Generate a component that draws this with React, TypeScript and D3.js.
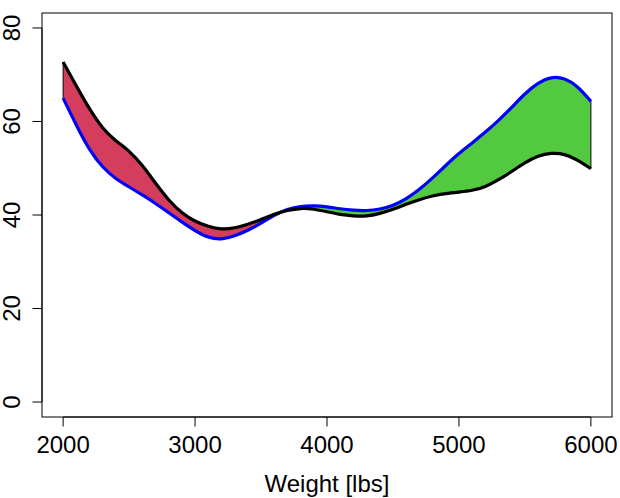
import React from 'react';
import * as d3 from 'd3';

// Weight grid (lbs) and the two fitted curves
const weights = [
  2000, 2100, 2200, 2300, 2400, 2500, 2600, 2700, 2800, 2900,
  3000, 3100, 3200, 3300, 3400, 3500, 3600, 3700, 3800, 3900,
  4000, 4100, 4200, 4300, 4400, 4500, 4600, 4700, 4800, 4900,
  5000, 5100, 5200, 5300, 5400, 5500, 5600, 5700, 5800, 5900, 6000
];

const blackSeries = [
  72.7, 67.6, 62.6, 58.4, 55.8, 53.8, 50.7, 46.8, 43.1, 40.4,
  38.6, 37.5, 36.9, 37.2, 38.0, 39.0, 40.2, 41.0, 41.5, 41.3,
  40.7, 40.1, 39.8, 39.7, 40.3, 41.2, 42.3, 43.3, 44.1, 44.6,
  44.9, 45.2, 46.0, 47.5, 49.3, 51.2, 52.7, 53.3, 53.1, 51.8, 49.9
];

const blueSeries = [
  65.0, 59.2, 53.8, 50.1, 47.7, 46.0, 44.3, 42.5, 40.5, 38.5,
  36.6, 35.1, 34.7, 35.5, 36.7, 38.2, 40.0, 41.3, 41.9, 42.0,
  41.8, 41.3, 41.0, 40.9, 41.2, 42.0, 43.4, 45.4, 47.9, 50.6,
  53.2, 55.4, 57.7, 60.2, 63.0, 66.0, 68.3, 69.6, 69.3, 67.6, 64.3
];

const xTicks = [2000, 3000, 4000, 5000, 6000];
const yTicks = [0, 20, 40, 60, 80];

const W = 620;
const H = 498;
const plot = { left: 42, right: 612, top: 13, bottom: 417 };
const font = '"Liberation Sans", Arial, Helvetica, sans-serif';

export default function App() {
  // R style 4% padding on both axes
  const x = d3.scaleLinear().domain([1840, 6160]).range([plot.left, plot.right]);
  const y = d3.scaleLinear().domain([-3.2, 83.2]).range([plot.bottom, plot.top]);

  const rows = weights.map((w, i) => ({ w, black: blackSeries[i], blue: blueSeries[i] }));
  const curve = d3.curveBasis;

  const lineBlack = d3.line<any>().x(d => x(d.w)).y(d => y(d.black)).curve(curve);
  const lineBlue = d3.line<any>().x(d => x(d.w)).y(d => y(d.blue)).curve(curve);

  const between = d3.area<any>().x(d => x(d.w)).y0(d => y(d.blue)).y1(d => y(d.black)).curve(curve);
  const aboveBlack = d3.area<any>().x(d => x(d.w)).y0(0).y1(d => y(d.black)).curve(curve);
  const belowBlack = d3.area<any>().x(d => x(d.w)).y0(H).y1(d => y(d.black)).curve(curve);

  return (
    <svg width={W} height={H} style={{ position: 'absolute', left: 0, top: 0, background: '#fff' }}
      fontFamily={font}>
      <defs>
        <clipPath id="clip-above"><path d={aboveBlack(rows) || ''} /></clipPath>
        <clipPath id="clip-below"><path d={belowBlack(rows) || ''} /></clipPath>
      </defs>

      {/* filled differences */}
      <path d={between(rows) || ''} fill="#D43D5C" clipPath="url(#clip-below)" />
      <path d={between(rows) || ''} fill="#53C940" clipPath="url(#clip-above)" />
      <path d={between(rows) || ''} fill="none" stroke="#000" strokeWidth={1} />

      <path d={lineBlue(rows) || ''} fill="none" stroke="#0000FF" strokeWidth={3.2} />
      <path d={lineBlack(rows) || ''} fill="none" stroke="#000" strokeWidth={3.2} />

      {/* plot box */}
      <rect x={plot.left} y={plot.top} width={plot.right - plot.left} height={plot.bottom - plot.top}
        fill="none" stroke="#000" strokeWidth={1} />

      {/* x axis */}
      <line x1={x(xTicks[0])} x2={x(xTicks[xTicks.length - 1])} y1={plot.bottom} y2={plot.bottom} stroke="#000" />
      {xTicks.map(t => (
        <g key={t}>
          <line x1={x(t)} x2={x(t)} y1={plot.bottom} y2={plot.bottom + 9.5} stroke="#000" />
          <text x={x(t)} y={453} textAnchor="middle" fontSize={24}>{t}</text>
        </g>
      ))}
      <text x={(plot.left + plot.right) / 2} y={492} textAnchor="middle" fontSize={24}>Weight [lbs]</text>

      {/* y axis */}
      <line x1={plot.left} x2={plot.left} y1={y(yTicks[0])} y2={y(yTicks[yTicks.length - 1])} stroke="#000" />
      {yTicks.map(t => (
        <g key={t}>
          <line x1={plot.left - 9.5} x2={plot.left} y1={y(t)} y2={y(t)} stroke="#000" />
          <text transform={`translate(20,${y(t)}) rotate(-90)`} textAnchor="middle" fontSize={24}>{t}</text>
        </g>
      ))}
    </svg>
  );
}
